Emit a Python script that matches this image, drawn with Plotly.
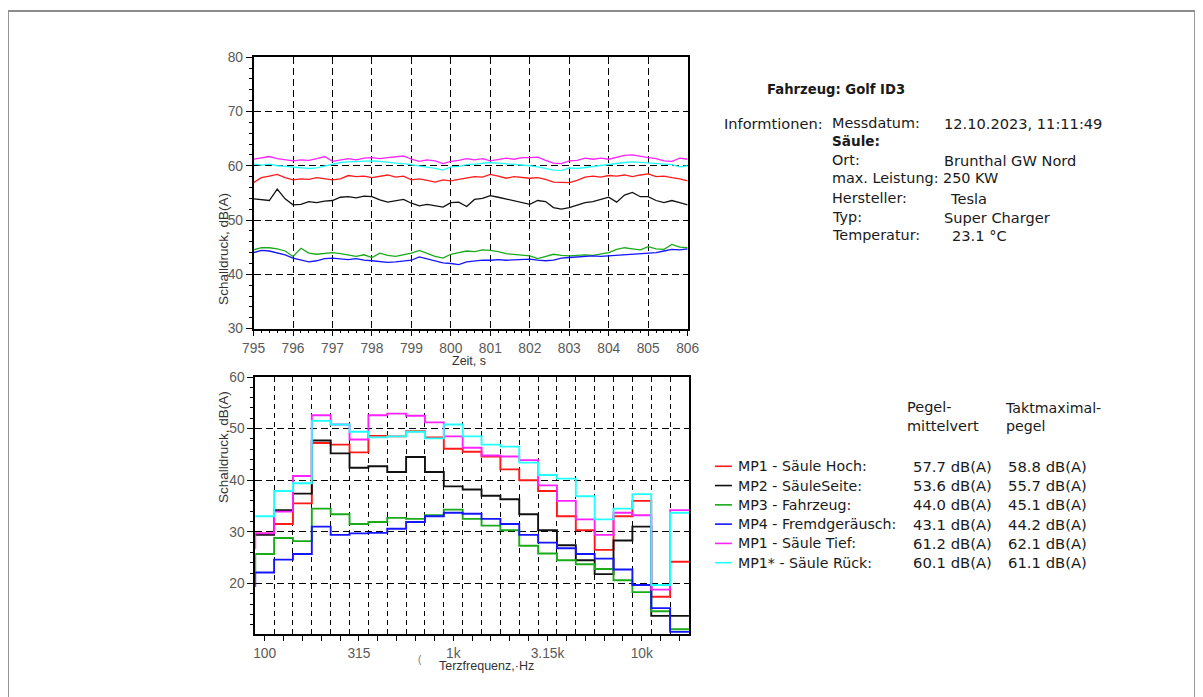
import numpy as np
import plotly.graph_objects as go

W, H = 1203, 697

# ---------------- data: time history (top chart) ----------------
time_s = np.round(np.arange(795.0, 806.001, 0.2), 1)

mp1_hoch = [56.9, 57.8, 58.1, 58.4, 57.8, 57.4, 57.6, 57.5, 57.8, 57.6, 57.4, 57.6, 58.2, 58.0,
            58.1, 57.8, 58.0, 58.3, 57.9, 58.1, 57.4, 57.6, 57.3, 57.0, 57.4, 57.2, 57.5, 57.8,
            58.0, 57.9, 58.4, 58.1, 57.7, 58.0, 57.8, 57.7, 57.8, 57.5, 57.0, 56.9, 56.9, 57.3,
            57.9, 58.1, 57.9, 58.2, 58.1, 58.3, 58.0, 58.3, 58.5, 58.0, 58.1, 57.8, 57.6, 57.2]
mp2_seite = [53.9, 53.7, 53.6, 55.7, 53.9, 52.8, 52.9, 53.4, 53.2, 53.5, 53.6, 54.2, 54.3, 54.1,
             54.4, 54.3, 53.7, 53.3, 53.5, 53.8, 53.1, 52.6, 52.9, 52.7, 52.4, 53.2, 53.3, 52.5,
             53.8, 54.0, 54.5, 54.2, 53.9, 53.5, 53.3, 52.9, 53.6, 53.4, 52.3, 52.0, 52.3, 52.8,
             53.2, 53.4, 53.8, 54.2, 53.3, 54.6, 55.1, 54.3, 54.3, 53.6, 53.2, 53.6, 53.2, 52.8]
mp3_fahrzeug = [44.5, 44.9, 44.9, 44.7, 44.3, 43.3, 44.8, 43.9, 43.7, 43.9, 44.0, 43.8, 43.5, 43.3,
                43.6, 43.1, 43.9, 43.5, 43.3, 43.6, 43.9, 44.4, 43.8, 43.3, 43.0, 43.7, 44.0, 44.3,
                44.2, 44.5, 44.4, 44.2, 43.8, 43.7, 43.6, 43.4, 42.9, 43.3, 43.7, 43.5, 43.4, 43.5,
                43.6, 43.5, 43.8, 44.0, 44.6, 44.9, 44.7, 44.5, 45.1, 44.7, 44.6, 45.5, 45.0, 44.9]
mp4_fremd = [44.0, 44.4, 44.3, 44.0, 43.6, 43.0, 42.6, 42.3, 42.5, 42.9, 43.0, 42.9, 42.7, 42.9,
             42.6, 42.5, 42.4, 42.2, 42.3, 42.5, 42.6, 43.2, 42.8, 42.5, 42.1, 42.0, 41.8, 42.3,
             42.5, 42.6, 42.6, 42.7, 42.6, 42.7, 42.8, 42.8, 42.6, 42.5, 42.6, 43.0, 43.1, 43.2,
             43.3, 43.4, 43.3, 43.4, 43.4, 43.5, 43.6, 43.7, 43.9, 44.0, 44.3, 44.6, 44.5, 44.7]
mp1_tief = [61.2, 61.5, 61.7, 61.3, 61.1, 60.9, 61.1, 61.0, 61.3, 61.7, 60.8, 61.0, 61.3, 61.1,
            61.4, 61.5, 61.3, 61.5, 61.7, 61.8, 61.2, 60.8, 61.1, 60.9, 60.4, 60.8, 61.0, 61.3,
            61.1, 61.3, 60.9, 61.1, 61.4, 61.2, 61.5, 61.5, 61.6, 61.0, 60.5, 60.4, 60.9, 61.0,
            61.4, 61.2, 61.4, 61.2, 61.6, 61.9, 62.0, 61.7, 61.5, 61.3, 60.9, 60.8, 61.4, 61.2]
mp1s_rueck = [60.3, 60.1, 60.3, 60.0, 59.9, 59.8, 59.6, 59.5, 59.6, 59.9, 60.3, 60.6, 60.7, 60.8,
              60.9, 60.9, 60.8, 60.6, 60.5, 60.4, 60.2, 60.0, 59.7, 59.5, 59.2, 59.8, 59.9, 60.2,
              60.3, 60.5, 60.6, 60.5, 60.4, 60.3, 60.1, 60.0, 59.8, 59.5, 59.2, 59.1, 59.6, 59.5,
              59.7, 59.8, 60.0, 60.3, 60.4, 60.6, 60.7, 60.6, 60.6, 60.5, 60.3, 60.2, 59.8, 60.0]

# ---------------- data: third-octave spectrum (bottom chart) ----------------
band_hz = [80, 100, 125, 160, 200, 250, 315, 400, 500, 630, 800, 1000, 1250, 1600,
           2000, 2500, 3150, 4000, 5000, 6300, 8000, 10000, 12500, 16000]
band_labels = {100: "100", 315: "315", 1000: "1k", 3150: "3.15k", 10000: "10k"}

spec_mp1_hoch = [29.7, 29.7, 31.5, 35.5, 47.2, 46.9, 45.4, 48.6, 48.5, 49.5, 48.3, 46.1, 45.5,
                 44.6, 42.1, 40.0, 37.9, 33.0, 30.3, 26.5, 33.0, 36.0, 17.4, 24.2]
spec_mp2_seite = [29.4, 29.4, 34.2, 37.4, 47.7, 45.2, 42.4, 42.7, 41.6, 44.5, 41.6, 38.8, 38.2,
                  37.0, 36.3, 33.4, 30.3, 27.4, 24.5, 21.8, 28.3, 31.0, 13.7, 13.7]
spec_mp3_fahrzeug = [22.1, 25.7, 28.8, 28.2, 34.5, 33.4, 31.5, 31.9, 32.7, 32.5, 33.2, 34.3, 32.5,
                     31.2, 30.3, 27.3, 25.8, 24.5, 23.7, 22.8, 20.6, 18.3, 14.6, 11.1]
spec_mp4_fremd = [19.5, 22.1, 24.6, 25.7, 31.0, 29.4, 29.7, 29.8, 30.6, 31.9, 33.0, 33.7, 33.5,
                  32.5, 31.5, 29.4, 27.9, 26.8, 25.7, 24.8, 22.7, 19.7, 15.2, 10.6]
spec_mp1_tief = [26.8, 29.7, 33.9, 40.8, 52.6, 50.8, 47.9, 52.6, 52.9, 52.5, 51.2, 48.5, 46.3,
                 44.8, 44.6, 43.9, 39.0, 36.0, 32.4, 29.4, 33.7, 33.2, 18.8, 34.2]
spec_mp1s_rueck = [33.0, 33.0, 37.9, 39.4, 51.5, 50.8, 49.4, 48.3, 48.5, 49.4, 48.1, 50.8, 48.5,
                   46.9, 46.5, 43.4, 41.0, 40.3, 36.9, 32.4, 34.5, 37.3, 19.7, 33.7]

series_names = ["MP1 - Säule Hoch:", "MP2 - SäuleSeite:", "MP3 - Fahrzeug:",
                "MP4 - Fremdgeräusch:", "MP1 - Säule Tief:", "MP1* - Säule Rück:"]
series_colors = ["#ff1a1a", "#111111", "#1aaa1a", "#1515ff", "#ff22ff", "#22ffff"]
pegel_mittel = ["57.7 dB(A)", "53.6 dB(A)", "44.0 dB(A)", "43.1 dB(A)", "61.2 dB(A)", "60.1 dB(A)"]
takt_max = ["58.8 dB(A)", "55.7 dB(A)", "45.1 dB(A)", "44.2 dB(A)", "62.1 dB(A)", "61.1 dB(A)"]

time_series = [mp1_hoch, mp2_seite, mp3_fahrzeug, mp4_fremd, mp1_tief, mp1s_rueck]
spectra = [spec_mp1_hoch, spec_mp2_seite, spec_mp3_fahrzeug, spec_mp4_fremd, spec_mp1_tief, spec_mp1s_rueck]

vehicle_title = "Fahrzeug: Golf ID3"
info_head = "Informtionen:"
info_labels = ["Messdatum:", "Säule:", "Ort:", "max. Leistung: 250 KW", "Hersteller:", "Typ:",
               "Temperatur:"]
info_values = ["12.10.2023, 11:11:49", "", "Brunthal GW Nord", "", "Tesla",
               "Super Charger", "23.1 °C"]

# ---------------- helpers ----------------
# the page is photographed with a small offset/scale; map screen pixels back
OX, SX = 19.6, 0.9807
OY, SY = 14.5, 0.979


def px(x):
    return ((x - OX) / SX) / W


def py(y):
    return 1 - ((y - OY) / SY) / H


# third-octave band geometry (exact centres and edges)
centres = [10 ** (round(10 * np.log10(f)) / 10) for f in band_hz]
lower_edges = [c * 10 ** -0.05 for c in centres]
upper_last = centres[-1] * 10 ** 0.05
step_x = lower_edges + [upper_last]

fig = go.Figure()

for name, col, ys in zip(series_names, series_colors, time_series):
    fig.add_trace(go.Scatter(x=time_s, y=ys, mode="lines", name=name,
                             line=dict(color=col, width=1.3), xaxis="x", yaxis="y",
                             showlegend=False))

for name, col, ys in zip(series_names, series_colors, spectra):
    fig.add_trace(go.Scatter(x=step_x, y=list(ys) + [ys[-1]], mode="lines", name=name,
                             line=dict(color=col, width=1.9, shape="hv"),
                             xaxis="x2", yaxis="y2", showlegend=False))

tickfont = dict(family="Liberation Sans, Arial, sans-serif", size=13.8, color="#5a5a5a")
axis_common = dict(showline=True, linecolor="black", linewidth=1.5, mirror=True,
                   zeroline=False, tickfont=tickfont, ticks="outside",
                   tickcolor="black", tickwidth=1.2)

lab_centres = [c for c, f in zip(centres, band_hz) if f >= 100]
lab_text = [band_labels.get(f, "") for f in band_hz if f >= 100]
edge_vals = [e for e, f in zip(lower_edges, band_hz) if f > 100]

fig.update_layout(
    width=W, height=H, margin=dict(l=0, r=0, t=0, b=0),
    paper_bgcolor="white", plot_bgcolor="white",
    xaxis=dict(domain=[px(253.3), px(687.7)], anchor="y", range=[795, 806],
               tickmode="array", tickvals=list(range(795, 807)), ticklen=6,
               showgrid=True, gridcolor="black", gridwidth=1.3, griddash="7px,4px",
               minor=dict(dtick=0.2, ticks="outside", ticklen=3, tickcolor="black", showgrid=False),
               **axis_common),
    yaxis=dict(domain=[py(328.3), py(56.7)], anchor="x", range=[30, 80],
               tickmode="array", tickvals=[30, 40, 50, 60, 70, 80], ticklen=6,
               showgrid=True, gridcolor="black", gridwidth=1.3, griddash="7px,4px",
               minor=dict(dtick=2, ticks="outside", ticklen=3, tickcolor="black", showgrid=False),
               **axis_common),
    xaxis2=dict(domain=[px(255), px(689)], anchor="y2", type="log",
                range=[np.log10(lower_edges[1]), np.log10(upper_last)],
                tickmode="array", tickvals=lab_centres, ticktext=lab_text, ticklen=5,
                showgrid=False,
                minor=dict(tickmode="array", tickvals=edge_vals, ticks="", showgrid=True,
                           gridcolor="black", gridwidth=1.2, griddash="5px,4px"),
                **axis_common),
    yaxis2=dict(domain=[py(634.3), py(376.7)], anchor="x2", range=[10.1, 60],
                tickmode="array", tickvals=[20, 30, 40, 50, 60], ticklen=6,
                showgrid=True, gridcolor="black", gridwidth=1.3, griddash="7px,4px",
                minor=dict(dtick=2, tick0=0, ticks="outside", ticklen=3, tickcolor="black",
                           showgrid=False),
                **axis_common),
)

ann = []


def text(x, y, s, size, bold=False, anchor="left", **kw):
    f = dict(family="DejaVu Sans, Verdana, sans-serif", size=size, color="#1a1a1a")
    ann.append(dict(x=px(x), y=py(y), text=f"<b>{s}</b>" if bold else s, xanchor=anchor,
                    yanchor="middle", align="left", font=f, showarrow=False,
                    xref="paper", yref="paper", **kw))


title_font = dict(family="Liberation Sans, Arial, sans-serif", size=13.5, color="#333333")
ann.append(dict(x=px(213), y=py(190.7), text="Schalldruck, dB(A)", textangle=-90,
                font=title_font, showarrow=False, xref="paper", yref="paper"))
ann.append(dict(x=px(213), y=py(505), text="Schalldruck, dB(A)", textangle=-90,
                font=title_font, showarrow=False, xref="paper", yref="paper"))
ann.append(dict(x=px(469), y=py(361), text="Zeit, s", font=dict(title_font, size=12.5),
                showarrow=False, xref="paper", yref="paper"))
ann.append(dict(x=px(437), y=py(675), text="Terzfrequenz,·Hz", xanchor="left",
                font=dict(title_font, size=12.5), showarrow=False, xref="paper", yref="paper"))
ann.append(dict(x=px(416), y=py(667), text="(", xanchor="left",
                font=dict(title_font, size=10, color="#777777"), showarrow=False,
                xref="paper", yref="paper"))

# info block
text(765, 89, vehicle_title, 13.2, bold=True)
text(722, 123, info_head, 14.6)
row_y = [123, 141, 160, 178, 198, 217, 235]
value_x = [942, 942, 942, 942, 948, 942, 950]
for lab, val, yy, vx in zip(info_labels, info_values, row_y, value_x):
    if lab == "Säule:":
        text(830, yy, lab, 13.6, bold=True)
    else:
        text(830, yy, lab, 14.4)
    if val:
        text(vx, yy, val, 14.6)

# legend-like table
text(905, 416.5, "Pegel-<br>mittelvert", 14.5)
text(1003, 416.5, "Taktmaximal-<br>pegel", 14.2)

shapes = []
for i, (name, col, m, t) in enumerate(zip(series_names, series_colors, pegel_mittel, takt_max)):
    yy = 466 + 19.3 * i
    shapes.append(dict(type="line", xref="paper", yref="paper", x0=px(715), x1=px(732),
                       y0=py(yy), y1=py(yy), line=dict(color=col, width=1.6)))
    text(736.5, yy, name, 14.2)
    text(911.5, yy, m, 14.8)
    text(1006.5, yy, t, 14.8)

shapes.append(dict(type="rect", xref="paper", yref="paper", x0=px(7.5), x1=px(1195.5),
                   y0=py(705), y1=py(10.5), line=dict(color="#8c8c8c", width=2),
                   fillcolor="rgba(0,0,0,0)", layer="below"))

fig.update_layout(annotations=ann, shapes=shapes)
fig.write_html("out.html")
